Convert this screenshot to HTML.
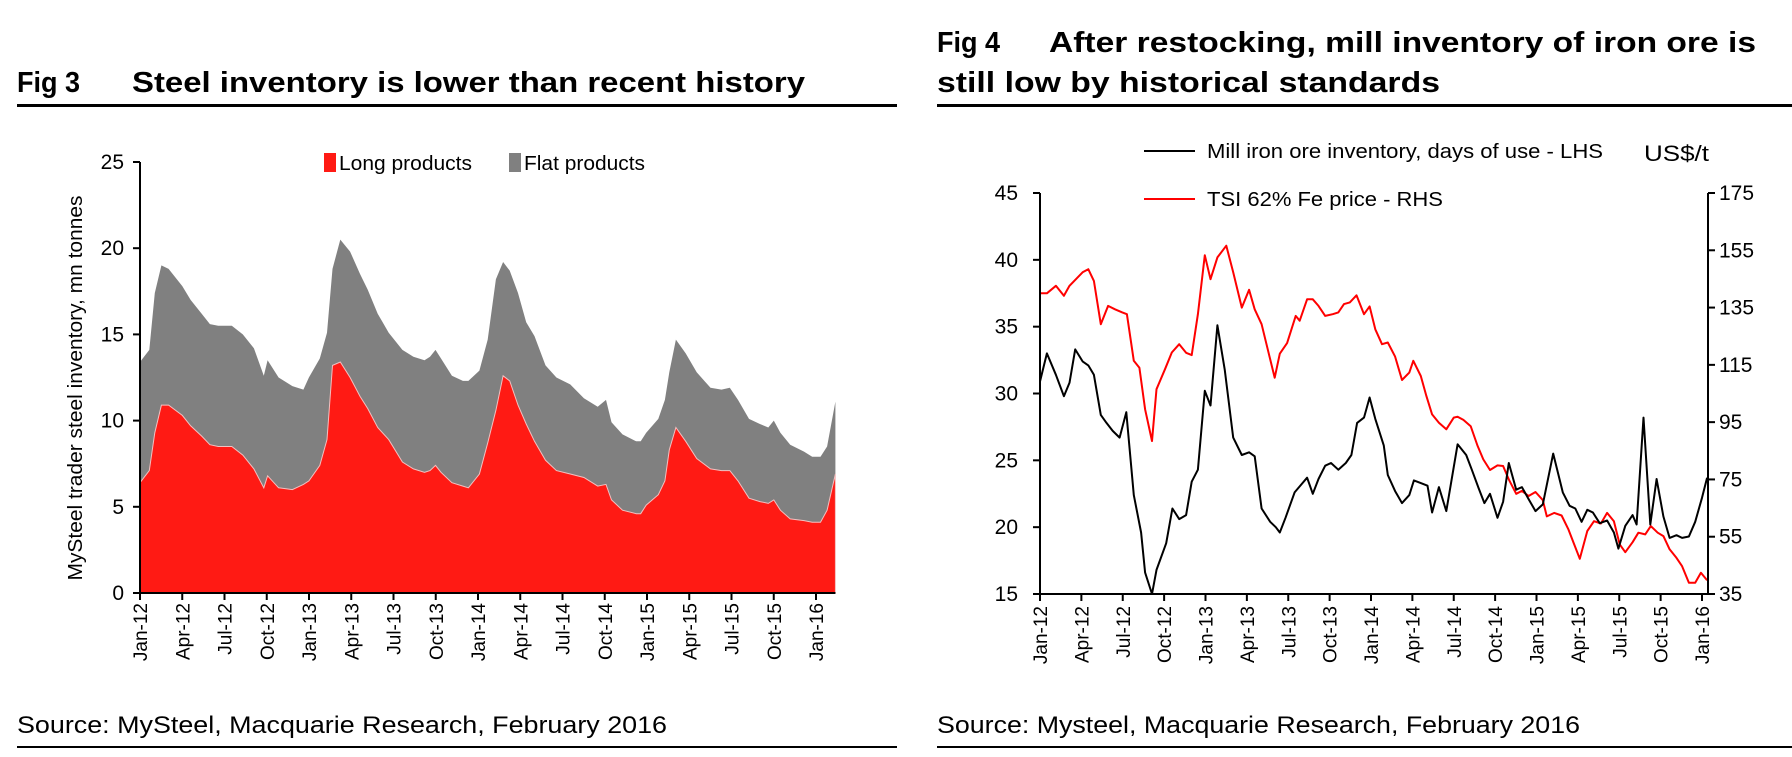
<!DOCTYPE html>
<html><head><meta charset="utf-8"><style>
body{margin:0;background:#fff;}
svg{display:block;font-family:"Liberation Sans Narrow","Liberation Sans",sans-serif;}
</style></head><body>
<svg id="s" width="1792" height="757" viewBox="0 0 1792 757">
<g font-weight="bold" font-size="29">
<text x="17" y="92" textLength="63" lengthAdjust="spacingAndGlyphs">Fig 3</text>
<text x="132" y="92" textLength="673" lengthAdjust="spacingAndGlyphs">Steel inventory is lower than recent history</text>
</g>
<rect x="17" y="104" width="880" height="3" fill="#000"/>
<g font-weight="bold" font-size="29">
<text x="937" y="52" textLength="63" lengthAdjust="spacingAndGlyphs">Fig 4</text>
<text x="1049" y="52" textLength="707" lengthAdjust="spacingAndGlyphs">After restocking, mill inventory of iron ore is</text>
<text x="937" y="92" textLength="503" lengthAdjust="spacingAndGlyphs">still low by historical standards</text>
</g>
<rect x="937" y="104" width="855" height="3" fill="#000"/>
<text x="17" y="733" font-size="24" textLength="650" lengthAdjust="spacingAndGlyphs" font-family="Liberation Sans">Source: MySteel, Macquarie Research, February 2016</text>
<text x="937" y="733" font-size="24" textLength="643" lengthAdjust="spacingAndGlyphs" font-family="Liberation Sans">Source: Mysteel, Macquarie Research, February 2016</text>
<rect x="17" y="746" width="880" height="2" fill="#000"/>
<rect x="937" y="746" width="855" height="2" fill="#000"/>
<g id="c1"></g>
<g id="c2"></g>
</svg>
<script>
const xLabels=["Jan-12","Apr-12","Jul-12","Oct-12","Jan-13","Apr-13","Jul-13","Oct-13","Jan-14","Apr-14","Jul-14","Oct-14","Jan-15","Apr-15","Jul-15","Oct-15","Jan-16"];
// Chart 1 data (months since Jan-12)
const c1Months=[0,.66,1.05,1.52,2.03,3.0,3.59,4.38,4.96,5.55,6.52,7.3,8.09,8.79,9.06,9.84,10.82,11.6,11.99,12.77,13.28,13.67,14.22,14.92,15.63,16.17,16.88,17.66,18.63,19.41,20.2,20.59,20.98,21.37,22.15,22.93,23.32,24.1,24.69,25.27,25.78,26.25,26.84,27.42,28.01,28.79,29.57,30.55,31.52,32.5,33.09,33.48,34.26,35.23,35.55,35.94,36.8,37.27,37.58,38.05,38.75,39.53,40.51,41.29,41.88,42.46,43.24,44.02,44.61,45.0,45.47,46.17,47.15,47.73,48.32,48.79,49.38];
const c1Total=[13.4,14.1,17.4,19.0,18.8,17.8,17.0,16.2,15.6,15.5,15.5,15.0,14.2,12.6,13.5,12.5,12.0,11.8,12.5,13.6,15.1,18.8,20.5,19.8,18.5,17.6,16.2,15.1,14.1,13.7,13.5,13.7,14.1,13.6,12.6,12.3,12.3,12.9,14.7,18.2,19.2,18.7,17.4,15.7,14.9,13.2,12.5,12.1,11.3,10.8,11.2,9.9,9.2,8.8,8.8,9.3,10.1,11.2,12.8,14.7,13.9,12.8,11.9,11.8,11.9,11.2,10.1,9.8,9.6,10.0,9.3,8.6,8.2,7.9,7.9,8.5,11.1];
const c1Long=[6.4,7.1,9.3,10.9,10.9,10.3,9.7,9.1,8.6,8.5,8.5,8.0,7.2,6.1,6.8,6.1,6.0,6.3,6.5,7.4,8.9,13.2,13.4,12.5,11.4,10.7,9.6,8.9,7.6,7.2,7.0,7.1,7.4,7.0,6.4,6.2,6.1,6.9,8.7,10.6,12.6,12.3,10.9,9.8,8.8,7.7,7.1,6.9,6.7,6.2,6.3,5.4,4.8,4.6,4.6,5.1,5.7,6.5,8.3,9.6,8.8,7.8,7.2,7.1,7.1,6.5,5.5,5.3,5.2,5.4,4.8,4.3,4.2,4.1,4.1,4.8,6.9];
const c1Ticks=[0,5,10,15,20,25];
// Chart 2 data
const invMonths=[0,.5,1.15,1.73,2.14,2.55,3.09,3.5,3.91,4.41,4.82,5.27,5.77,6.26,6.8,7.33,7.62,8.12,8.45,9.15,9.6,10.09,10.59,11.0,11.45,11.95,12.36,12.86,13.39,14.01,14.63,15.16,15.57,16.07,16.69,17.1,17.39,17.8,18.46,18.95,19.37,19.78,20.19,20.68,21.1,21.63,22.17,22.58,22.99,23.49,23.9,24.31,24.93,25.22,25.75,26.25,26.78,27.11,27.61,28.1,28.43,28.92,29.46,30.28,30.9,31.31,31.81,32.22,32.63,33.17,33.58,33.99,34.53,34.94,35.43,35.93,36.46,37.21,37.91,38.4,38.81,39.27,39.68,40.09,40.58,41.12,41.61,41.94,42.44,42.97,43.26,43.76,44.25,44.71,45.2,45.65,46.15,46.56,47.05,47.51,48.0,48.37];
const invDays=[30.9,33.0,31.4,29.8,30.8,33.3,32.4,32.1,31.4,28.4,27.8,27.2,26.7,28.6,22.4,19.6,16.6,15.0,16.8,18.8,21.4,20.6,20.9,23.4,24.3,30.2,29.1,35.1,31.8,26.7,25.4,25.6,25.3,21.4,20.4,20.0,19.6,20.7,22.6,23.2,23.7,22.5,23.6,24.6,24.8,24.3,24.8,25.4,27.8,28.2,29.7,28.1,26.1,23.9,22.7,21.8,22.4,23.5,23.3,23.1,21.1,23.0,21.2,26.2,25.4,24.3,22.9,21.8,22.5,20.7,21.9,24.8,22.8,23.0,22.1,21.2,21.7,25.5,22.6,21.6,21.4,20.4,21.3,21.1,20.3,20.5,19.6,18.4,20.1,20.9,20.2,28.2,20.2,23.6,20.8,19.2,19.4,19.2,19.3,20.4,22.2,23.7];
const priceMonths=[0,.5,1.15,1.73,2.14,3.09,3.5,3.91,4.41,4.94,5.44,5.97,6.3,6.8,7.21,7.62,8.12,8.45,9.06,9.56,10.09,10.59,11.0,11.45,11.95,12.36,12.86,13.51,14.01,14.63,15.16,15.57,16.07,16.69,17.02,17.39,17.92,18.54,18.83,19.37,19.78,20.19,20.68,21.22,21.63,22.04,22.46,22.95,23.49,23.9,24.31,24.8,25.22,25.75,26.25,26.78,27.07,27.61,28.02,28.43,28.92,29.46,30.0,30.28,30.7,31.23,31.73,32.14,32.63,33.17,33.58,33.99,34.53,34.94,35.43,35.93,36.46,36.75,37.29,37.82,38.32,38.73,39.14,39.68,40.17,40.67,41.12,41.61,42.03,42.44,42.97,43.39,43.88,44.29,44.79,45.2,45.65,46.15,46.56,47.05,47.51,47.92,48.37];
const priceUSD=[140.0,140.0,142.6,139.1,142.6,147.3,148.4,144.3,129.2,135.6,134.4,133.3,132.7,116.4,114.0,99.5,88.4,106.5,113.5,119.3,122.2,119.2,118.4,132.7,153.3,144.9,152.5,156.6,147.3,135.0,141.2,134.4,129.2,116.9,110.5,118.9,122.6,132.1,130.4,137.9,137.9,135.6,132.1,132.7,133.3,136.2,136.8,139.3,132.7,135.4,127.4,122.2,122.8,117.9,109.7,112.3,116.4,111.1,104.1,97.7,94.8,92.5,96.6,96.9,95.8,93.6,86.7,82.0,78.3,79.9,79.7,75.0,70.0,71.0,69.2,70.6,67.8,62.1,63.3,62.4,57.5,52.3,47.3,57.0,60.4,59.6,63.3,60.4,52.3,49.6,53.1,56.4,55.8,58.7,56.4,55.2,50.6,47.6,44.7,38.9,38.9,42.4,39.8];
const leftTicks=[15,20,25,30,35,40,45];
const rightTicks=[35,55,75,95,115,135,155,175];

const NS="http://www.w3.org/2000/svg";
function mk(parent,tag,attrs){const e=document.createElementNS(NS,tag);for(const k in attrs)e.setAttribute(k,attrs[k]);parent.appendChild(e);return e;}

// ---- Chart 1 ----
const g1=document.getElementById('c1');
const x1=m=>140+m*(816-140)/48;
const y1=v=>593-v*(593-162)/25;
function area(vals){let d='M'+x1(c1Months[0])+','+y1(0);c1Months.forEach((m,i)=>{d+='L'+x1(m).toFixed(1)+','+y1(vals[i]).toFixed(1);});d+='L'+x1(c1Months[c1Months.length-1])+','+y1(0)+'Z';return d;}
let p=mk(g1,'path',{d:area(c1Total),fill:'#808080'});


p=mk(g1,'path',{d:area(c1Long),fill:'#FF1A14',stroke:'#f4c0c0','stroke-width':'1'});


mk(g1,'line',{x1:140,y1:162,x2:140,y2:594,stroke:'#000','stroke-width':2});
mk(g1,'line',{x1:139,y1:593,x2:x1(c1Months[c1Months.length-1]),y2:593,stroke:'#000','stroke-width':2});
c1Ticks.forEach(v=>{mk(g1,'line',{x1:133,y1:y1(v),x2:140,y2:y1(v),stroke:'#000','stroke-width':2});
 const t=mk(g1,'text',{x:124,y:y1(v)+7,'font-size':21,'text-anchor':'end'});t.textContent=v;
 
 });
xLabels.forEach((l,i)=>{const x=x1(i*3);mk(g1,'line',{x1:x,y1:593,x2:x,y2:600,stroke:'#000','stroke-width':2});
 const t=mk(g1,'text',{x:0,y:0,'font-size':19,'text-anchor':'end',transform:`translate(${x+7},603) rotate(-90)`});t.textContent=l;
 
 });
let t=mk(g1,'text',{x:0,y:0,'font-size':20,'text-anchor':'middle','font-family':'Liberation Sans',textLength:385,lengthAdjust:'spacingAndGlyphs',transform:'translate(82,388) rotate(-90)'});t.textContent='MySteel trader steel inventory, mn tonnes';


let r=mk(g1,'rect',{x:324,y:153,width:12,height:19,fill:'#FF1A14'});


t=mk(g1,'text',{x:339,y:170,'font-size':20,textLength:133,lengthAdjust:'spacingAndGlyphs'});t.textContent='Long products';


r=mk(g1,'rect',{x:509,y:153,width:12,height:19,fill:'#808080'});


t=mk(g1,'text',{x:524,y:170,'font-size':20,textLength:121,lengthAdjust:'spacingAndGlyphs'});t.textContent='Flat products';



// ---- Chart 2 ----
const g2=document.getElementById('c2');
const x2=m=>1040+m*(1702-1040)/48;
const yl=v=>594-(v-15)*(594-193)/30;
const yr=v=>594-(v-35)*(594-193)/140;
function line(ms,vs,f){return ms.map((m,i)=>(i?'L':'M')+x2(m).toFixed(1)+','+f(vs[i]).toFixed(1)).join('');}
p=mk(g2,'path',{d:line(priceMonths,priceUSD,yr),fill:'none',stroke:'#FF0000','stroke-width':2,'stroke-linejoin':'round'});


p=mk(g2,'path',{d:line(invMonths,invDays,yl),fill:'none',stroke:'#000','stroke-width':2,'stroke-linejoin':'round'});


mk(g2,'line',{x1:1040,y1:193,x2:1040,y2:595,stroke:'#000','stroke-width':2});
mk(g2,'line',{x1:1708,y1:193,x2:1708,y2:595,stroke:'#000','stroke-width':2});
mk(g2,'line',{x1:1039,y1:594,x2:1709,y2:594,stroke:'#000','stroke-width':2});
leftTicks.forEach(v=>{mk(g2,'line',{x1:1033,y1:yl(v),x2:1040,y2:yl(v),stroke:'#000','stroke-width':2});
 const t=mk(g2,'text',{x:1018,y:yl(v)+7,'font-size':21,'text-anchor':'end'});t.textContent=v;
 
 });
rightTicks.forEach(v=>{mk(g2,'line',{x1:1708,y1:yr(v),x2:1715,y2:yr(v),stroke:'#000','stroke-width':2});
 const t=mk(g2,'text',{x:1719,y:yr(v)+7,'font-size':21});t.textContent=v;
 
 });
xLabels.forEach((l,i)=>{const x=x2(i*3);mk(g2,'line',{x1:x,y1:594,x2:x,y2:601,stroke:'#000','stroke-width':2});
 const t=mk(g2,'text',{x:0,y:0,'font-size':19,'text-anchor':'end',transform:`translate(${x+7},606) rotate(-90)`});t.textContent=l;
 
 });
mk(g2,'line',{x1:1144,y1:151,x2:1195,y2:151,stroke:'#000','stroke-width':2});
t=mk(g2,'text',{x:1207,y:158,'font-size':20,textLength:396,lengthAdjust:'spacingAndGlyphs'});t.textContent='Mill iron ore inventory, days of use - LHS';


mk(g2,'line',{x1:1144,y1:199,x2:1195,y2:199,stroke:'#FF0000','stroke-width':2});
t=mk(g2,'text',{x:1207,y:206,'font-size':20,textLength:236,lengthAdjust:'spacingAndGlyphs'});t.textContent='TSI 62% Fe price - RHS';


t=mk(g2,'text',{x:1644,y:161,'font-size':22,textLength:65,lengthAdjust:'spacingAndGlyphs'});t.textContent='US$/t';


</script>
</body></html>
